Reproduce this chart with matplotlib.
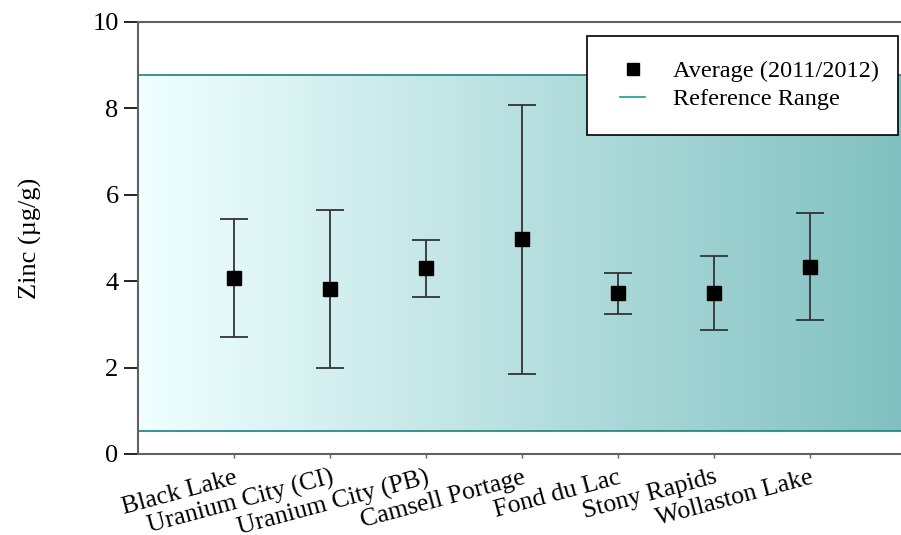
import numpy as np
import matplotlib
matplotlib.use("Agg")
import matplotlib.pyplot as plt
from matplotlib.colors import LinearSegmentedColormap
from matplotlib.lines import Line2D
from matplotlib.legend_handler import HandlerLine2D

categories = ["Black Lake", "Uranium City (CI)", "Uranium City (PB)", "Camsell Portage",
              "Fond du Lac", "Stony Rapids", "Wollaston Lake"]
avg = [4.08, 3.82, 4.30, 4.97, 3.72, 3.72, 4.34]
low = [2.71, 2.00, 3.64, 1.86, 3.25, 2.86, 3.10]
high = [5.45, 5.64, 4.95, 8.08, 4.18, 4.59, 5.59]
ref_low, ref_high = 0.54, 8.77

plt.rcParams['font.family'] = ['Liberation Serif', 'DejaVu Serif']
fig = plt.figure(figsize=(9.01, 5.35), dpi=100)
ax = fig.add_axes([138/901, 1-454/535, (906-138)/901, (454-22)/535])
ax.set_xlim(-1, 7)
ax.set_ylim(0, 10)

cmap = LinearSegmentedColormap.from_list("g", ["#f0ffff", "#80c0c0"])
grad = np.linspace(0, 1, 256).reshape(1, -1)
ax.imshow(grad, cmap=cmap, aspect='auto', extent=[-0.98, 7, ref_low, ref_high], zorder=0)
ax.axhline(ref_high, color="#1a7f7f", lw=1.2, zorder=1)
ax.axhline(ref_low, color="#1a7f7f", lw=1.2, zorder=1)

x = np.arange(len(categories))
yerr = [np.array(avg) - np.array(low), np.array(high) - np.array(avg)]
ax.errorbar(x, avg, yerr=yerr, fmt='none', ecolor="#333333", elinewidth=1.3,
            capsize=10, capthick=1.3, zorder=2)
ax.plot(x, avg, 's', color='black', ms=10, zorder=3, linestyle='none')

for s in ['left', 'bottom', 'top']:
    ax.spines[s].set_color('#606060')
    ax.spines[s].set_linewidth(1.5)
ax.spines['right'].set_visible(False)

ax.set_yticks([0, 2, 4, 6, 8, 10])
ax.tick_params(axis='y', direction='out', length=10, width=1.2, labelsize=19, pad=4)
ax.set_xticks(x)
ax.set_xticklabels(categories, rotation=15, ha='right', rotation_mode='anchor', fontsize=18.5)
ax.tick_params(axis='x', direction='out', length=3, width=1, colors='#606060', labelcolor='black', pad=6)
ax.set_ylabel("Zinc (µg/g)", fontsize=19, labelpad=36)

h_avg = Line2D([], [], marker='s', color='black', ls='none', ms=9)
h_ref = Line2D([], [], color='#1a9a9a', lw=1.2)
leg = ax.legend([h_avg, h_ref], ["Average (2011/2012)", "Reference Range"], loc='upper left',
                bbox_to_anchor=((587-138)/768, 1-(36-22)/432, (898-587)/768, 0),
                mode='expand', fontsize=17.5, frameon=True, fancybox=False, edgecolor='black',
                framealpha=1, borderpad=1.0, handlelength=1.4, handletextpad=1.15, labelspacing=0.25,
                borderaxespad=0,
                handler_map={h_avg: HandlerLine2D(xpad=0.37), h_ref: HandlerLine2D(xpad=0.37)})
leg.get_frame().set_linewidth(1.2)

fig.savefig("out.png", dpi=100)
